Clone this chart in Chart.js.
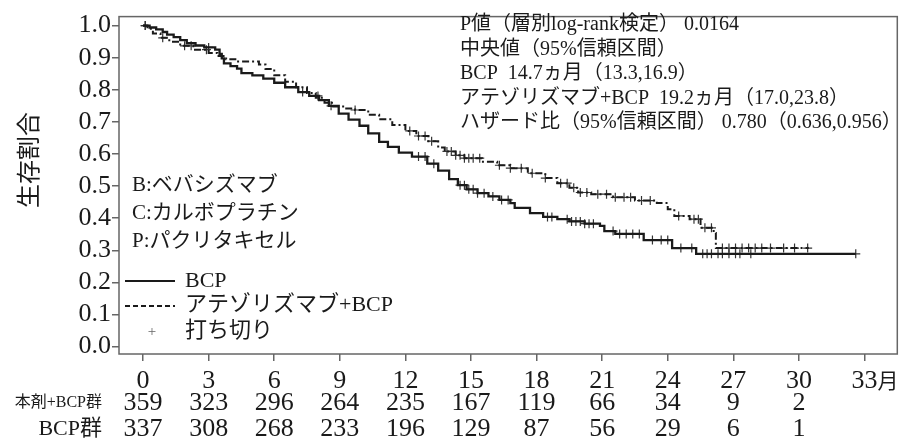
<!DOCTYPE html>
<html lang="ja">
<head>
<meta charset="utf-8">
<script src="https://cdn.jsdelivr.net/npm/chart.js@4.4.1/dist/chart.umd.min.js"></script>
<style>
  body { margin: 0; background: #fff; }
  canvas { display: block; }
</style>
</head>
<body>
<canvas id="kmChart" width="903" height="439"></canvas>
<script>
// 生存曲線（読み取り値）
const bcpTime = [0, 0.3, 0.6, 0.9, 1.1, 1.4, 1.7, 2.0, 2.4, 2.8, 3.3, 3.5, 3.6, 3.7, 4.0, 4.3, 4.5, 5.0, 5.5, 6.0, 6.5, 7.1, 7.6, 8.05, 8.5, 8.95, 9.4, 9.9, 10.3, 10.8, 11.2, 11.7, 12.3, 13.0, 13.5, 14.0, 14.4, 14.8, 15.3, 15.8, 16.3, 16.8, 17.0, 17.7, 18.3, 18.95, 19.5, 20.2, 20.9, 21.1, 21.6, 22.9, 24.2, 25.3, 32.6];
const bcpSurv = [1.0, 0.994, 0.988, 0.980, 0.972, 0.964, 0.955, 0.945, 0.938, 0.932, 0.925, 0.912, 0.898, 0.882, 0.874, 0.866, 0.852, 0.845, 0.835, 0.822, 0.808, 0.793, 0.781, 0.768, 0.750, 0.726, 0.707, 0.688, 0.664, 0.638, 0.622, 0.604, 0.592, 0.570, 0.548, 0.522, 0.503, 0.490, 0.478, 0.468, 0.457, 0.447, 0.432, 0.416, 0.404, 0.397, 0.390, 0.383, 0.376, 0.360, 0.351, 0.332, 0.307, 0.289, 0.289];

const atezoTime = [0, 0.2, 0.45, 0.8, 1.2, 1.7, 2.3, 3.0, 3.4, 3.8, 4.3, 5.3, 5.6, 6.0, 6.5, 7.0, 7.5, 7.9, 8.3, 8.64, 9.2, 9.7, 10.3, 10.8, 11.4, 12.0, 12.5, 13.05, 13.5, 13.8, 14.3, 14.7, 15.5, 16.2, 16.8, 17.6, 18.4, 18.95, 19.5, 19.9, 20.5, 21.5, 22.5, 23.5, 24.0, 24.3, 25.0, 25.5, 26.1, 26.2, 30.45];
const atezoSurv = [1.0, 0.990, 0.975, 0.962, 0.950, 0.937, 0.925, 0.915, 0.905, 0.895, 0.888, 0.879, 0.865, 0.845, 0.825, 0.808, 0.790, 0.775, 0.760, 0.748, 0.742, 0.737, 0.722, 0.708, 0.690, 0.672, 0.656, 0.640, 0.620, 0.608, 0.596, 0.587, 0.576, 0.565, 0.556, 0.540, 0.525, 0.509, 0.495, 0.480, 0.475, 0.465, 0.455, 0.447, 0.428, 0.407, 0.397, 0.370, 0.354, 0.307, 0.307];

// 打ち切り時点
const bcpCensor = [0.1, 3.0, 7.3, 8.0, 8.6, 12.6, 12.9, 13.3, 14.5, 14.7, 14.9, 15.1, 15.3, 15.6, 16.0, 16.4, 16.7, 18.5, 18.7, 19.4, 19.6, 19.8, 20.0, 20.2, 20.4, 20.6, 21.5, 21.8, 22.1, 22.4, 22.7, 23.3, 23.7, 24.0, 24.6, 25.1, 25.6, 25.8, 26.0, 26.3, 26.5, 26.8, 27.1, 27.3, 27.8, 32.6];
const atezoCensor = [0.1, 0.9, 1.9, 2.2, 2.9, 9.7, 12.2, 12.6, 12.9, 13.2, 13.9, 14.1, 14.3, 14.5, 14.7, 14.9, 15.1, 15.4, 16.3, 16.8, 17.3, 17.8, 18.4, 19.1, 19.4, 19.7, 20.0, 20.3, 20.8, 21.2, 21.6, 22.0, 22.3, 22.8, 23.2, 24.5, 25.2, 25.4, 25.7, 26.0, 26.5, 26.8, 27.1, 27.4, 27.7, 28.0, 28.3, 28.7, 29.3, 29.8, 30.4];

// 軸目盛
const xTicks = [0, 3, 6, 9, 12, 15, 18, 21, 24, 27, 30, 33];
const yTicks = [0, 0.1, 0.2, 0.3, 0.4, 0.5, 0.6, 0.7, 0.8, 0.9, 1.0];

// リスク集団
const riskTimes = [0, 3, 6, 9, 12, 15, 18, 21, 24, 27, 30];
const riskAtezo = [359, 323, 296, 264, 235, 167, 119, 66, 34, 9, 2];
const riskBcp = [337, 308, 268, 233, 196, 129, 87, 56, 29, 6, 1];

const annotationLines = [
    'P値（層別log-rank検定） 0.0164',
    '中央値（95%信頼区間）',
    'BCP  14.7ヵ月（13.3,16.9）',
    'アテゾリズマブ+BCP  19.2ヵ月（17.0,23.8）',
    'ハザード比（95%信頼区間） 0.780（0.636,0.956）'
];
const abbrevLines = ['B:ベバシズマブ', 'C:カルボプラチン', 'P:パクリタキセル'];

const FONT = '"Liberation Serif", "Noto Sans CJK JP", serif';
const INK = '#1a1a1a';

function toPoints(times, surv) {
    return times.map((t, i) => ({ x: t, y: surv[i] }));
}

// 打ち切り時点の生存割合（ステップ関数の値）
function survAt(times, surv, t) {
    let v = surv[0];
    for (let i = 0; i < times.length; i++) {
        if (times[i] <= t) v = surv[i];
    }
    return v;
}

function censorPoints(censor, times, surv) {
    return censor.map(t => ({ x: t, y: survAt(times, surv, t) }));
}

const overlayPlugin = {
    id: 'overlay',
    afterDraw(chart) {
        const ctx = chart.ctx;
        const area = chart.chartArea;
        const xs = chart.scales.x;
        ctx.save();

        // 枠
        ctx.strokeStyle = '#666';
        ctx.lineWidth = 1.5;
        ctx.strokeRect(area.left, area.top, area.right - area.left, area.bottom - area.top);

        ctx.fillStyle = INK;
        ctx.textBaseline = 'middle';

        // 縦軸タイトル
        ctx.save();
        ctx.translate(31, 160);
        ctx.rotate(-Math.PI / 2);
        ctx.textAlign = 'center';
        ctx.font = '24px ' + FONT;
        ctx.fillText('生存割合', 0, 0);
        ctx.restore();

        // 略語
        ctx.textAlign = 'left';
        ctx.font = '21px ' + FONT;
        abbrevLines.forEach((s, i) => ctx.fillText(s, 132, 185 + i * 28));

        // 凡例
        ctx.strokeStyle = INK;
        ctx.lineWidth = 2;
        ctx.beginPath();
        ctx.moveTo(125, 281);
        ctx.lineTo(175, 281);
        ctx.stroke();
        ctx.setLineDash([5, 3]);
        ctx.beginPath();
        ctx.moveTo(125, 306);
        ctx.lineTo(175, 306);
        ctx.stroke();
        ctx.setLineDash([]);
        ctx.font = '22px ' + FONT;
        ctx.fillText('BCP', 185, 281);
        ctx.fillText('アテゾリズマブ+BCP', 185, 305);
        ctx.fillText('打ち切り', 185, 331);
        ctx.fillStyle = '#666';
        ctx.font = '15px ' + FONT;
        ctx.textAlign = 'center';
        ctx.fillText('+', 152, 332);

        // 注記
        ctx.fillStyle = INK;
        ctx.textAlign = 'left';
        ctx.font = '20px ' + FONT;
        annotationLines.forEach((s, i) => ctx.fillText(s, 460, 25 + i * 24.5));

        // 「月」
        ctx.font = '26px ' + FONT;
        const w33 = ctx.measureText('33').width;
        ctx.font = '21px ' + FONT;
        ctx.fillText('月', xs.getPixelForValue(33) + w33 / 2, 382);

        // リスク集団
        ctx.textAlign = 'center';
        ctx.font = '26px ' + FONT;
        riskTimes.forEach((t, i) => {
            const px = xs.getPixelForValue(t);
            ctx.fillText(String(riskAtezo[i]), px, 403);
            ctx.fillText(String(riskBcp[i]), px, 429);
        });
        ctx.textAlign = 'right';
        ctx.font = '16px ' + FONT;
        ctx.fillText('本剤+BCP群', 102, 403);
        ctx.font = '22px ' + FONT;
        ctx.fillText('BCP群', 102, 429);

        ctx.restore();
    }
};

new Chart(document.getElementById('kmChart'), {
    type: 'line',
    data: {
        datasets: [
            {
                label: 'BCP',
                data: toPoints(bcpTime, bcpSurv),
                stepped: 'before',
                borderColor: INK,
                borderWidth: 2.3,
                pointRadius: 0,
                fill: false
            },
            {
                label: 'アテゾリズマブ+BCP',
                data: toPoints(atezoTime, atezoSurv),
                stepped: 'before',
                borderColor: INK,
                borderWidth: 2,
                borderDash: [7, 3, 2, 3],
                pointRadius: 0,
                fill: false
            },
            {
                label: 'BCP 打ち切り',
                data: censorPoints(bcpCensor, bcpTime, bcpSurv),
                showLine: false,
                pointStyle: 'cross',
                pointRadius: 4.5,
                borderColor: '#333',
                borderWidth: 1.2
            },
            {
                label: 'アテゾリズマブ+BCP 打ち切り',
                data: censorPoints(atezoCensor, atezoTime, atezoSurv),
                showLine: false,
                pointStyle: 'cross',
                pointRadius: 4.5,
                borderColor: '#333',
                borderWidth: 1.2
            }
        ]
    },
    options: {
        responsive: false,
        animation: false,
        layout: { padding: { top: 15, right: 1, left: 0, bottom: 0 } },
        plugins: {
            legend: { display: false },
            tooltip: { enabled: false }
        },
        scales: {
            x: {
                type: 'linear',
                min: -1.1,
                max: 34.5,
                afterBuildTicks: scale => { scale.ticks = xTicks.map(v => ({ value: v })); },
                afterFit: scale => { scale.height = 85; },
                border: { display: false },
                grid: { drawOnChartArea: false, drawTicks: true, tickLength: 7, color: '#666', lineWidth: 1.5 },
                ticks: {
                    font: { family: FONT, size: 26 },
                    color: INK,
                    padding: 5,
                    maxRotation: 0,
                    autoSkip: false,
                    callback: v => String(v)
                }
            },
            y: {
                type: 'linear',
                min: -0.023,
                max: 1.028,
                afterBuildTicks: scale => { scale.ticks = yTicks.map(v => ({ value: v })); },
                afterFit: scale => { scale.width = 119; },
                border: { display: false },
                grid: { drawOnChartArea: false, drawTicks: true, tickLength: 7, color: '#666', lineWidth: 1.5 },
                ticks: {
                    font: { family: FONT, size: 26 },
                    color: INK,
                    padding: 1,
                    autoSkip: false,
                    callback: v => v.toFixed(1)
                }
            }
        }
    },
    plugins: [overlayPlugin]
});
</script>
</body>
</html>
